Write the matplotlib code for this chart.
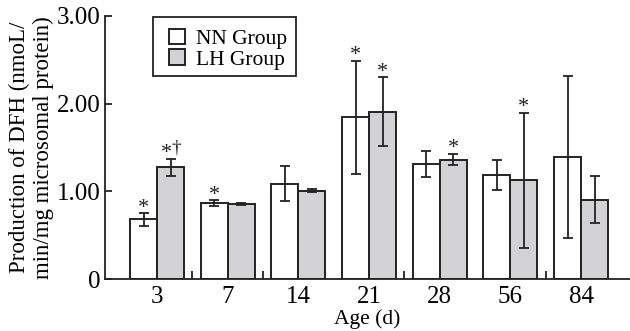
import matplotlib
matplotlib.use("Agg")
import matplotlib.pyplot as plt
from matplotlib.patches import Rectangle
import numpy as np

ages = ["3", "7", "14", "21", "28", "56", "84"]
nn_values = [0.68, 0.867, 1.087, 1.844, 1.315, 1.19, 1.388]
nn_errors = [0.07, 0.03, 0.20, 0.645, 0.15, 0.17, 0.925]
lh_values = [1.274, 0.855, 1.007, 1.909, 1.361, 1.125, 0.905]
lh_errors = [0.10, 0.015, 0.015, 0.39, 0.065, 0.77, 0.27]
nn_marks = ["*", "*", "", "*", "", "", ""]
lh_marks = ["*†", "", "", "*", "*", "*", ""]

plt.rcParams['font.family'] = ['Liberation Serif', 'DejaVu Serif']

fig = plt.figure(figsize=(6.30, 3.31), dpi=100)
ax = fig.add_axes([0.1667, 0.157, 0.8333, 0.7947])

x = np.arange(len(ages))
w = 0.382
edge = '#222222'
ekw = dict(ecolor=edge, elinewidth=1.3, capsize=3.5, capthick=1.3)

ax.bar(x - w/2, nn_values, w, color='white', edgecolor=edge, linewidth=1.4,
       yerr=nn_errors, error_kw=ekw, label='NN Group', zorder=2)
ax.bar(x + w/2, lh_values, w, color='#d3d3d5', edgecolor=edge, linewidth=1.4,
       yerr=lh_errors, error_kw=ekw, label='LH Group', zorder=2)

for i in range(len(ages)):
    if nn_marks[i]:
        ax.text(x[i] - w/2, nn_values[i] + nn_errors[i] - 0.05, nn_marks[i],
                ha='center', va='bottom', fontsize=16, color=edge)
    if lh_marks[i] == "*†":
        ax.text(x[i] + w/2 - 0.06, lh_values[i] + lh_errors[i] - 0.05, "*",
                ha='center', va='bottom', fontsize=16, color=edge)
        ax.text(x[i] + w/2 + 0.08, lh_values[i] + lh_errors[i] + 0.02, "†",
                ha='center', va='bottom', fontsize=14, color=edge)
    elif lh_marks[i]:
        ax.text(x[i] + w/2, lh_values[i] + lh_errors[i] - 0.05, lh_marks[i],
                ha='center', va='bottom', fontsize=16, color=edge)

ax.set_xlim(-0.736, 6.693)
ax.set_ylim(0, 3.0)
ax.set_xticks(x)
ax.set_xticklabels(ages)
ax.set_xticks([0.5, 1.5, 3.5, 5.5], minor=True)
ax.set_yticks([0, 1, 2, 3])
ax.set_yticklabels(["0", "1.00", "2.00", "3.00"])
ax.tick_params(axis='x', which='major', length=0, pad=5, labelsize=18)
ax.tick_params(axis='x', which='minor', direction='in', length=6, width=1.3, color=edge)
ax.tick_params(axis='y', direction='in', length=5, width=1.3, color=edge, labelsize=18, pad=3)

for s in ['top', 'right']:
    ax.spines[s].set_visible(False)
for s in ['left', 'bottom']:
    ax.spines[s].set_linewidth(1.3)
    ax.spines[s].set_color(edge)

ax.set_xlabel("Age (d)", fontsize=15.5, labelpad=1)
ax.set_ylabel("Production of DFH (nmoL/\nmin/mg microsomal protein)", fontsize=16.5,
              linespacing=1.2, labelpad=2)

leg = ax.legend(loc='upper left', bbox_to_anchor=(0.122, 0.95), fontsize=15.5,
                frameon=False, handlelength=0.72, handleheight=0.72,
                handletextpad=0.55, borderpad=0.0, labelspacing=0.0,
                borderaxespad=0)
ax.add_patch(Rectangle((0.0914, 0.772), 0.2724, 0.224, transform=ax.transAxes,
                       fill=False, edgecolor=edge, linewidth=1.3, zorder=5,
                       clip_on=False))

fig.savefig("out.png", dpi=100)
